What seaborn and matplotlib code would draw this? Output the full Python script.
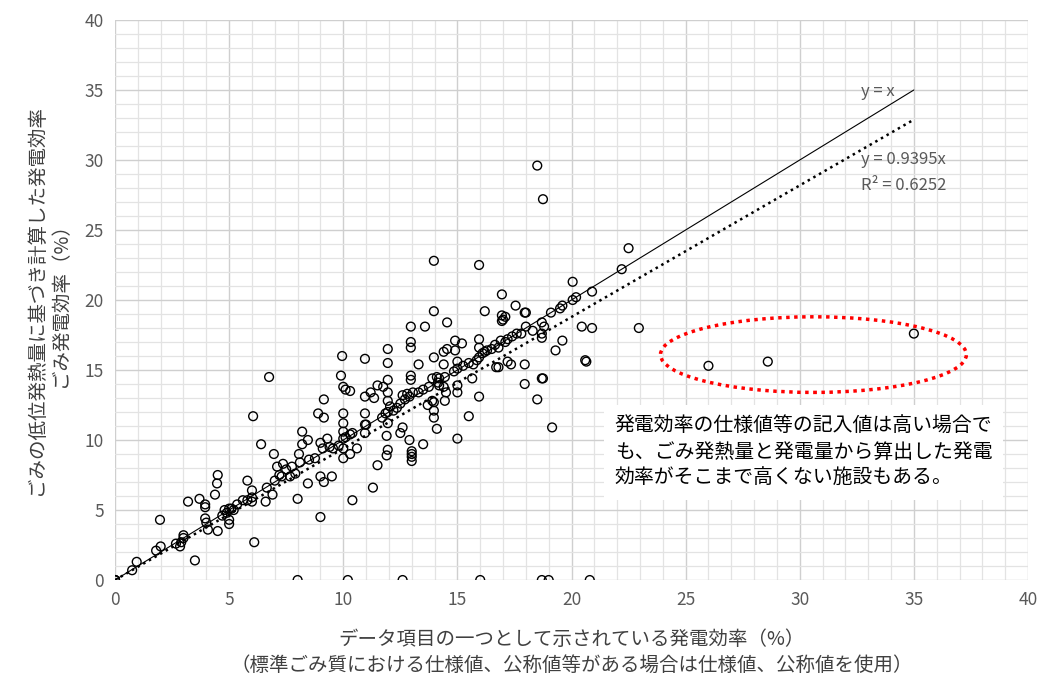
import numpy as np
import pandas as pd
import matplotlib
matplotlib.use("Agg")
import matplotlib.pyplot as plt
from matplotlib.patches import Ellipse
from matplotlib.ticker import MultipleLocator
import seaborn as sns

# データ
spec_eff = [
    0, 0, 0, 8.0, 10.2, 12.6, 16.0, 18.7, 19.0, 20.8,
    0.75, 0.95, 1.8, 2.0, 1.97, 2.67, 2.85, 2.9, 3.0, 3.0, 3.5, 3.2, 3.7, 3.95, 3.95, 3.95, 4.0, 4.07,
    4.5, 4.47, 4.38, 4.5, 4.7, 4.8, 4.9, 5.0, 5.0, 5.0, 5.1, 5.2, 5.35, 5.6, 5.8, 5.8, 6.0, 6.0, 6.0,
    6.1, 6.05, 6.4, 6.6, 6.65, 6.75, 6.9, 6.96, 7.0, 7.1, 7.2, 7.3, 7.36, 7.5, 7.67, 7.75, 7.9, 8.0,
    8.06, 8.1, 8.2, 8.45, 8.2, 8.45, 8.5, 8.76, 9.0, 9.1, 9.3, 9.4, 9.55, 9.8, 8.9, 9.15, 9.15, 9.0,
    9.15, 9.5, 9.0,
    9.95, 9.9, 10.0, 10.1, 10.3, 10.0, 10.0, 10.0, 10.0, 10.0, 10.0, 10.1, 10.3, 10.4, 10.3, 10.6,
    10.4, 10.95, 10.95, 10.95, 10.95, 11.0, 10.95, 11.2, 11.35, 11.5, 11.75, 11.5, 11.3, 11.95, 11.95,
    11.95, 11.95, 11.95, 11.95, 11.9, 11.95, 11.9, 12.05, 12.2, 12.35, 11.7, 11.85, 11.95, 12.6, 12.5,
    12.7,
    13.97, 15.95, 13.97, 16.2, 12.96, 13.58, 14.55, 12.96, 12.96, 14.9, 15.2, 14.55, 14.4, 13.97, 14.4,
    14.9, 15.0, 15.95, 15.95, 15.95, 16.2, 16.3, 16.65, 16.9, 15.95, 16.7, 13.3, 12.96, 12.96, 13.9,
    14.1, 14.2, 14.45, 14.15, 14.2, 14.4, 13.75, 13.5, 13.3, 13.05, 12.9, 12.8, 12.6, 14.85, 15.0,
    15.25, 15.5, 15.7, 15.85, 16.1, 15.0, 15.0, 14.5, 14.45, 13.97, 13.9, 13.7, 13.97, 13.97, 15.65,
    15.5, 14.1, 15.0, 13.0, 13.0, 13.0, 13.0, 12.9, 12.5, 13.5,
    16.95, 17.55, 17.95, 18.0, 16.95, 17.0, 16.95, 17.1, 20.05, 20.9, 19.1, 19.5, 19.6, 20.05, 20.2,
    18.7, 18.8, 18.3, 18.0, 20.45, 20.9, 19.6, 19.3, 18.7, 18.7, 17.95, 17.35, 17.2, 16.8, 17.95,
    18.7, 18.75, 18.5, 19.15, 20.6, 20.65, 17.2, 17.4, 17.6, 17.8, 17.1, 16.5, 16.8,
    18.5, 18.75, 22.5, 22.2, 22.95, 26.0, 28.6, 35.0,
]
calc_eff = [
    0, 0, 0, 0, 0, 0, 0, 0, 0, 0,
    0.7, 1.3, 2.1, 2.4, 4.3, 2.6, 2.4, 2.7, 3.0, 3.2, 1.4, 5.6, 5.8, 5.4, 5.2, 4.4, 4.1, 3.6,
    7.5, 6.9, 6.1, 3.5, 4.6, 5.0, 4.8, 5.1, 4.3, 4.0, 5.1, 5.0, 5.4, 5.7, 5.7, 7.1, 6.4, 5.9, 5.6,
    2.7, 11.7, 9.7, 5.6, 6.6, 14.5, 6.1, 9.0, 7.1, 8.1, 7.5, 7.4, 8.3, 7.9, 7.4, 8.1, 7.6, 5.8,
    9.0, 8.4, 10.6, 10.0, 9.7, 6.9, 8.6, 8.7, 9.8, 9.4, 10.1, 9.5, 9.4, 9.6, 11.9, 11.6, 12.9, 7.4,
    7.0, 7.4, 4.5,
    16.0, 14.6, 13.8, 13.6, 13.5, 11.9, 11.2, 10.6, 10.1, 9.4, 8.7, 10.2, 10.4, 10.5, 9.0, 9.4,
    5.7, 15.8, 13.1, 11.9, 11.1, 11.1, 10.5, 13.4, 13.0, 13.9, 13.8, 8.2, 6.6, 16.5, 15.5,
    14.3, 13.4, 12.8, 12.0, 10.3, 9.3, 8.9, 12.4, 12.1, 12.3, 11.6, 11.9, 11.2, 10.9, 12.6,
    12.9,
    22.8, 22.5, 19.2, 19.2, 18.1, 18.1, 18.4, 17.0, 16.6, 17.1, 16.9, 16.5, 16.3, 15.9, 15.4,
    16.4, 15.6, 17.2, 16.6, 15.9, 16.3, 16.4, 16.8, 17.1, 13.1, 15.2, 15.4, 14.6, 14.3, 14.4,
    14.5, 14.4, 14.5, 14.1, 13.9, 13.8, 13.8, 13.6, 13.4, 13.4, 13.1, 13.3, 13.2, 14.9, 15.1,
    15.3, 15.5, 15.4, 15.7, 16.2, 13.9, 13.4, 13.4, 12.8, 12.7, 12.8, 12.5, 12.1, 11.6, 14.4,
    11.7, 10.8, 10.1, 9.2, 8.8, 8.5, 9.0, 10.0, 10.5, 9.7,
    20.4, 19.6, 19.1, 19.1, 18.9, 18.6, 18.5, 18.8, 21.3, 20.6, 19.1, 19.4, 19.6, 20.0, 20.2,
    18.4, 18.1, 17.8, 18.1, 18.1, 18.0, 17.1, 16.4, 17.3, 17.6, 15.4, 15.4, 15.6, 15.2, 14.0,
    14.4, 14.4, 12.9, 10.9, 15.7, 15.6, 17.2, 17.4, 17.6, 17.6, 17.0, 16.5, 16.6,
    29.6, 27.2, 23.7, 22.2, 18.0, 15.3, 15.6, 17.6,
]
trend_slope = 0.9395
r_squared = 0.6252
line_x = [0, 35]

df = pd.DataFrame({"spec": spec_eff, "calc": calc_eff})

sns.set_style("white")
plt.rcParams["font.family"] = ["Noto Sans CJK JP", "DejaVu Sans"]

fig = plt.figure(figsize=(10.39, 6.84), dpi=100)
ax = fig.add_axes([0.1107, 0.152, 0.8787, 0.8188])

# 回帰直線（点線）と y = x（実線）
ax.plot(line_x, line_x, color="black", lw=0.8, zorder=2)
ax.plot(line_x, [trend_slope * v for v in line_x], color="black", lw=1.8,
        linestyle=(0, (1, 1.6)), zorder=2)

sns.scatterplot(data=df, x="spec", y="calc", ax=ax, marker="o", s=40,
                facecolor="none", edgecolor="black", linewidth=1, zorder=3)

ax.set_xlim(0, 40)
ax.set_ylim(0, 40)
ax.xaxis.set_major_locator(MultipleLocator(5))
ax.yaxis.set_major_locator(MultipleLocator(5))
ax.xaxis.set_minor_locator(MultipleLocator(1))
ax.yaxis.set_minor_locator(MultipleLocator(1))
ax.grid(which="major", color="#cfcfcf", lw=1)
ax.grid(which="minor", color="#e3e3e3", lw=0.9)
ax.set_axisbelow(True)
for s in ax.spines.values():
    s.set_visible(False)
ax.tick_params(which="both", length=0, labelsize=12.5, labelcolor="#595959", pad=8)

ax.set_xlabel("データ項目の一つとして示されている発電効率（%）\n"
              "（標準ごみ質における仕様値、公称値等がある場合は仕様値、公称値を使用）",
              fontsize=14, color="#404040", labelpad=14, linespacing=1.3)
ax.set_ylabel("ごみの低位発熱量に基づき計算した発電効率\nごみ発電効率（%）",
              fontsize=14, color="#404040", labelpad=10, linespacing=1.2)

ax.text(32.7, 34.9, "y = x", fontsize=12, color="#595959", va="center")
ax.text(32.7, 30.0, f"y = {trend_slope}x", fontsize=12, color="#595959", va="center")
ax.text(32.7, 28.2, f"R² = {r_squared}", fontsize=12, color="#595959", va="center")

ax.add_patch(Ellipse((30.6, 16.1), 13.4, 5.4, fill=False, edgecolor="#ff0000",
                     lw=2.5, linestyle=(0, (1, 1.3)), zorder=4))

ax.text(21.9, 9.1,
        "発電効率の仕様値等の記入値は高い場合で\nも、ごみ発熱量と発電量から算出した発電\n効率がそこまで高くない施設もある。",
        fontsize=14.3, color="black", linespacing=1.3, va="center", zorder=5,
        bbox=dict(boxstyle="square,pad=0.55", facecolor="white", edgecolor="none"))

plt.savefig("out.png", dpi=100)
